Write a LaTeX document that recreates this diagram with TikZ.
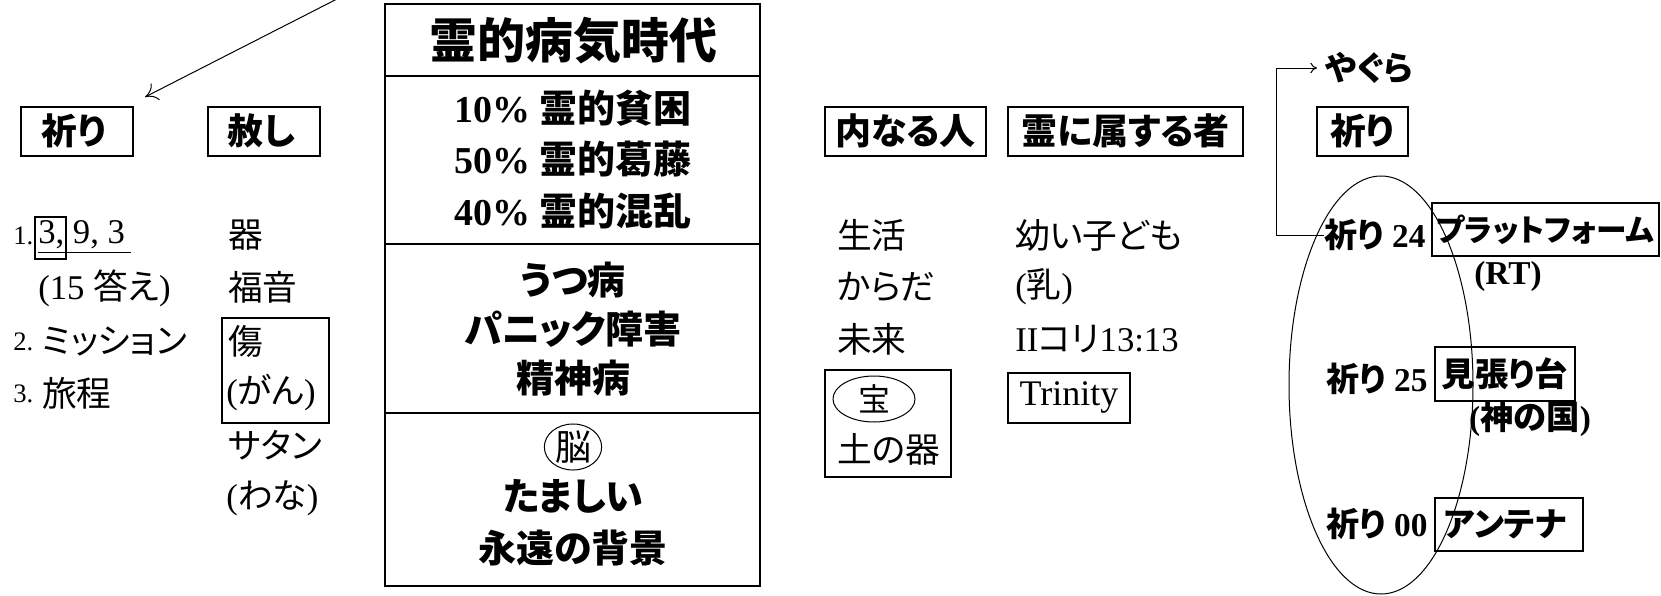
\documentclass[tikz,border=0pt]{standalone}
\usepackage{fontspec}
\setmainfont{Liberation Serif}
\newfontfamily\jp[RawFeature=+palt]{Noto Sans CJK JP}
\newcommand\J[1]{{\jp #1}}
\usetikzlibrary{fit,shapes.geometric,arrows.meta}
\tikzset{
  framebox/.style={draw, line width=0.9pt, inner sep=0pt},
  jreg/.style={font=\fontsize{26}{30}\selectfont, inner sep=0pt},
  numsm/.style={font=\fontsize{20}{24}\selectfont, inner sep=0pt},
  cbold/.style={font=\fontsize{28.5}{32}\selectfont\bfseries, inner sep=0pt},
  ctitle/.style={font=\fontsize{36}{40}\selectfont\bfseries, inner sep=0pt},
  hdr/.style={font=\fontsize{27}{30}\selectfont\bfseries, inner sep=0pt},
  rbold/.style={font=\fontsize{25}{28}\selectfont\bfseries, inner sep=0pt},
  thin/.style={line width=0.75pt},
}
\begin{document}
\begin{tikzpicture}[x=0.75pt,y=-0.75pt]
\useasboundingbox (0,0) rectangle (1661,596);

% ---------- left columns ----------
\node[framebox, fit={(21,107)(133,156)}] (prayL) {};
\node[hdr] (prayLt) at (74,131) {\J{祈り}};
\node[framebox, fit={(208,107)(320,156)}] (forgive) {};
\node[hdr] (forgivet) at (261,131) {\J{赦し}};
\coordinate (astart) at (337,-1);
\coordinate (atip) at (145,97);
\draw[thin, -{To[length=9pt,width=14pt]}] (astart) -- (atip);

\node[numsm, anchor=west] (n1) at (13,236) {1.};
\node[jreg, anchor=west] (l1) at (38,235) {3, 9, 3};
\node[framebox, line width=0.8pt, fit={(35,217)(66,259)}] (three) {};
\coordinate (ul1) at (38,252);
\coordinate (ul2) at (131,252);
\draw[thin] (ul1) -- (ul2);
\node[jreg, anchor=west] (l2) at (38,288) {(15 \J{答え})};
\node[numsm, anchor=west] (n2) at (13,342) {2.};
\node[jreg, anchor=west] (l3) at (42,341) {\J{ミッション}};
\node[numsm, anchor=west] (n3) at (13,394) {3.};
\node[jreg, anchor=west] (l4) at (42,393) {\J{旅程}};

\node[jreg, anchor=west] (b1) at (228,235) {\J{器}};
\node[jreg, anchor=west] (b2) at (228,287) {\J{福音}};
\node[jreg, anchor=west] (b3) at (228,341) {\J{傷}};
\node[jreg, anchor=west] (b4) at (226,393) {(\J{がん})};
\node[framebox, fit={(222,318)(329,423)}] (woundbox) {};
\node[jreg, anchor=west] (b5) at (228,445) {\J{サタン}};
\node[jreg, anchor=west] (b6) at (226,498) {(\J{わな})};

% ---------- centre box ----------
\node[framebox, fit={(385,4)(760,586)}] (mainbox) {};
\coordinate (d1a) at (385,76);  \coordinate (d1b) at (760,76);
\coordinate (d2a) at (385,244); \coordinate (d2b) at (760,244);
\coordinate (d3a) at (385,413); \coordinate (d3b) at (760,413);
\draw[line width=0.9pt] (d1a) -- (d1b);
\draw[line width=0.9pt] (d2a) -- (d2b);
\draw[line width=0.9pt] (d3a) -- (d3b);
\node[ctitle] (title) at (573,41) {\J{霊的病気時代}};
\node[cbold] (c1) at (573,108) {10\% \J{霊的貧困}};
\node[cbold] (c2) at (573,159) {50\% \J{霊的葛藤}};
\node[cbold] (c3) at (573,211) {40\% \J{霊的混乱}};
\node[cbold] (c4) at (573,280) {\J{うつ病}};
\node[cbold] (c5) at (573,329) {\J{パニック障害}};
\node[cbold] (c6) at (573,378) {\J{精神病}};
\node[draw, thin, ellipse, minimum width=43pt, minimum height=27.5pt, inner sep=0pt,
      font=\fontsize{27}{29}\selectfont] (brain) at (573,447) {\J{脳}};
\node[cbold] (c7) at (573,496) {\J{たましい}};
\node[cbold] (c8) at (573,548) {\J{永遠の背景}};

% ---------- middle-right columns ----------
\node[framebox, fit={(825,107)(986,156)}] (inner) {};
\node[hdr] (innert) at (905.5,131) {\J{内なる人}};
\node[framebox, fit={(1008,107)(1243,156)}] (spirit) {};
\node[hdr] (spiritt) at (1125.5,131) {\J{霊に属する者}};
\node[jreg, anchor=west] (m1) at (837,235) {\J{生活}};
\node[jreg, anchor=west] (m2) at (837,287) {\J{からだ}};
\node[jreg, anchor=west] (m3) at (837,339) {\J{未来}};
\node[draw, thin, ellipse, minimum width=61.5pt, minimum height=34.5pt, inner sep=0pt,
      font=\fontsize{24}{26}\selectfont] (treasure) at (874,399) {\J{宝}};
\node[jreg, anchor=west] (m5) at (837,449) {\J{土の器}};
\node[framebox, fit={(825,370)(951,477)}] (vesselbox) {};
\node[jreg, anchor=west] (s1) at (1015,235) {\J{幼い子ども}};
\node[jreg, anchor=west] (s2) at (1015,287) {(\J{乳})};
\node[jreg, anchor=west] (s3) at (1015,339) {II\J{コリ}13:13};
\node[framebox, fit={(1008,373)(1130,423)}] (trinity) {};
\node[jreg, font=\fontsize{27}{30}\selectfont] (trinityt) at (1069,397) {Trinity};

% ---------- right part ----------
\node[rbold, anchor=west] (yagura) at (1325,68) {\J{やぐら}};
\node[framebox, fit={(1317,107)(1408,156)}] (prayR) {};
\node[hdr] (prayRt) at (1362.5,131) {\J{祈り}};
\node[rbold, anchor=west] (p24) at (1324,235) {\J{祈り} 24};
\node[framebox, fit={(1432,203)(1659,256)}] (platform) {};
\node[rbold, font=\fontsize{23}{26}\selectfont\bfseries] (platformt) at (1545,230) {\J{プラットフォーム}};
\node[rbold] (rt) at (1508,276) {(RT)};
\node[rbold, anchor=west] (p25) at (1326,379) {\J{祈り} 25};
\node[framebox, fit={(1435,347)(1575,401)}] (watch) {};
\node[rbold] (watcht) at (1505,374) {\J{見張り台}};
\node[rbold] (kingdom) at (1530,419) {(\J{神の国})};
\node[rbold, anchor=west] (p00) at (1326,524) {\J{祈り} 00};
\node[framebox, fit={(1435,498)(1583,551)}] (antenna) {};
\node[rbold] (antennat) at (1505,524) {\J{アンテナ}};
\draw[thin] (1381,385) ellipse [x radius=69pt, y radius=156.75pt];
\draw[thin, -{To[length=5pt,width=8pt]}, shorten >=6pt]
  (p24.west) -- ++(-48,0) |- (yagura.west);
\end{tikzpicture}
\end{document}
